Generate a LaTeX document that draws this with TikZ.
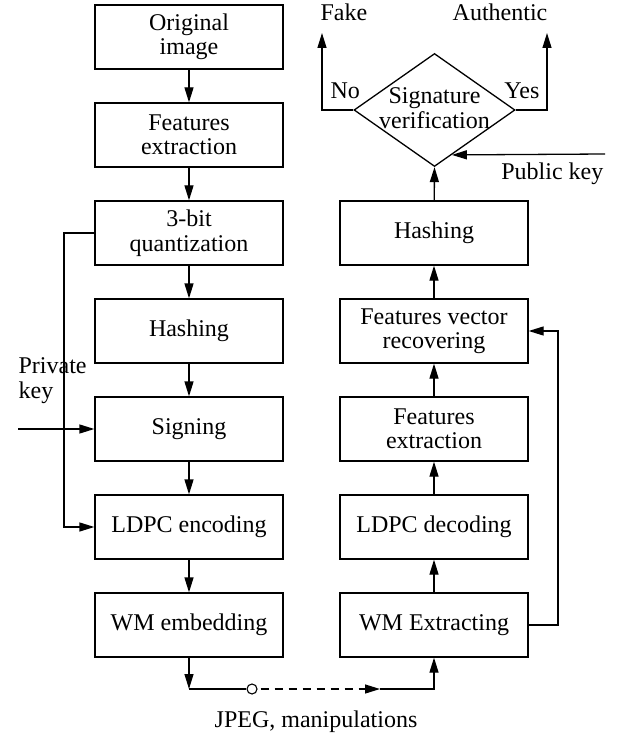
\documentclass[tikz,border=0pt]{standalone}
\usepackage{fontspec}
\setmainfont{Liberation Serif}
\usetikzlibrary{shapes.geometric,arrows.meta,calc}
\begin{document}
\begin{tikzpicture}[x=1pt,y=-1pt,
  font=\fontsize{24}{24.5}\selectfont,
  line width=1.3pt,
  box/.style={draw,rectangle,minimum width=188pt,minimum height=64pt,inner sep=0pt,align=center},
  arr/.style={-{Triangle[length=15pt,width=9pt]}},
  lbl/.style={inner sep=0pt}]
\useasboundingbox (0,0) rectangle (624,735);
% left column
\node[box] (orig) at (189,37) {Original\\image};
\node[box] (fext) at (189,135) {Features\\extraction};
\node[box] (quant) at (189,233) {3-bit\\quantization};
\node[box] (hashl) at (189,331) {Hashing};
\node[box] (sign) at (189,429) {Signing};
\node[box] (ldpce) at (189,527) {LDPC encoding};
\node[box] (wme) at (189,625) {WM embedding};
% right column
\node[box] (wmx) at (434,625) {WM Extracting};
\node[box] (ldpcd) at (434,527) {LDPC decoding};
\node[box] (fextr) at (434,429) {Features\\extraction};
\node[box] (fvr) at (434,331) {Features vector\\recovering};
\node[box] (hashr) at (434,233) {Hashing};
\node[draw,diamond,minimum width=161pt,minimum height=113pt,inner sep=0pt] (ver) at (434.5,110) {};
\node[align=center,lbl] (vtext) at (434.5,108) {Signature\\verification};
% labels
\node[lbl,anchor=base west] (fake) at (320,21) {Fake};
\node[lbl,anchor=base east] (auth) at (548,21) {Authentic};
\node[lbl,anchor=base west] (no) at (330,99) {No};
\node[lbl,anchor=base east] (yes) at (540,99) {Yes};
\node[lbl,anchor=base east] (pub) at (604,180) {Public key};
\node[lbl,anchor=base west,align=left] (priv) at (18,398) {Private\\key};
\node[lbl,anchor=base] (jpeg) at (316,727) {JPEG, manipulations};
% coordinates
\coordinate (fakec) at (322,33);
\coordinate (authc) at (547,33);
\coordinate (pubs) at (605,154);
\coordinate (pubt) at ($(ver.east)!0.786!(ver.south)$);
\coordinate (privs) at (18,429);
\coordinate (qx) at (64,233);
\coordinate (fbx) at (558,625);
\coordinate (b1) at (189,689);
\coordinate (b2) at (434,689);
\coordinate (dend) at (380,689);
% left flow
\draw[arr] (orig) -- (fext);
\draw[arr] (fext) -- (quant);
\draw[arr] (quant) -- (hashl);
\draw[arr] (hashl) -- (sign);
\draw[arr] (sign) -- (ldpce);
\draw[arr] (ldpce) -- (wme);
\draw[arr] (quant.west) -- (qx) |- (ldpce.west);
\draw[arr] (privs) -- (sign.west);
% right flow
\draw[arr] (wmx) -- (ldpcd);
\draw[arr] (ldpcd) -- (fextr);
\draw[arr] (fextr) -- (fvr);
\draw[arr] (fvr) -- (hashr);
\draw[arr] (hashr) -- (ver.south);
\draw[arr] (wmx.east) -- (fbx) |- (fvr.east);
\draw[arr] (pubs) -- (pubt);
\draw[arr] (ver.west) -| (fakec);
\draw[arr] (ver.east) -| (authc);
% bottom channel
\draw[arr] (wme.south) -- (b1);
\node[draw,circle,fill=white,minimum size=10pt,inner sep=0pt,line width=1.1pt] (circ) at (252,689) {};
\draw (b1) -- (circ.west);
\draw[arr,dash pattern=on 8pt off 6pt] (circ.east) ++(3,0) -- (dend);
\draw[arr] (dend) -- (b2) -- (wmx.south);
\end{tikzpicture}
\end{document}
